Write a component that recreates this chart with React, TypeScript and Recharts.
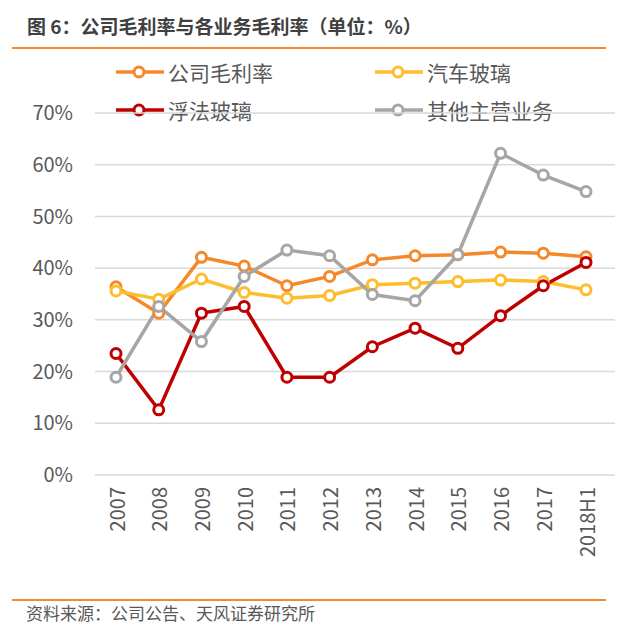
import React from 'react';
import { LineChart, Line, XAxis, YAxis, CartesianGrid } from 'recharts';

// Gross margin by business line, %
const years = ['2007', '2008', '2009', '2010', '2011', '2012', '2013', '2014', '2015', '2016', '2017', '2018H1'];
const companyMargin = [36.4, 31.3, 42.1, 40.4, 36.6, 38.4, 41.6, 42.4, 42.6, 43.1, 42.9, 42.2];
const autoGlassMargin = [35.6, 34.0, 37.9, 35.3, 34.2, 34.7, 36.8, 37.1, 37.4, 37.7, 37.4, 35.8];
const floatGlassMargin = [23.5, 12.6, 31.3, 32.6, 18.9, 18.9, 24.8, 28.4, 24.5, 30.8, 36.6, 41.1];
const otherBizMargin = [18.9, 32.6, 25.8, 38.4, 43.5, 42.4, 34.9, 33.7, 42.6, 62.2, 58.0, 54.8];
const yTicks = [0, 10, 20, 30, 40, 50, 60, 70];

const data = years.map((year, i) => ({
  year,
  company: companyMargin[i],
  auto: autoGlassMargin[i],
  float: floatGlassMargin[i],
  other: otherBizMargin[i],
}));

const series = [
  { key: 'company', name: '公司毛利率', color: '#F5882B' },
  { key: 'auto', name: '汽车玻璃', color: '#FDBD2C' },
  { key: 'float', name: '浮法玻璃', color: '#C00000' },
  { key: 'other', name: '其他主营业务', color: '#A6A6A6' },
];

const FONT = '"Noto Sans CJK SC", "Noto Sans", sans-serif';
const TEXT = '#595959';

const XTick = (props: any) => {
  const { x, y, payload } = props;
  return (
    <text
      transform={`translate(${x},${y}) rotate(-90)`}
      textAnchor="end"
      dominantBaseline="central"
      fontSize={20}
      fontFamily={FONT}
      fill={TEXT}
    >
      {payload.value}
    </text>
  );
};

const LegendBlock = () => {
  const cols = [115, 374];
  const rows = [72, 110];
  return (
    <>
      {series.map((s, i) => {
        const left = cols[i % 2];
        const cy = rows[Math.floor(i / 2)];
        return (
          <div
            key={s.key}
            style={{ position: 'absolute', left, top: cy - 16, height: 32, display: 'flex', alignItems: 'center' }}
          >
            <svg width={50} height={32} style={{ display: 'block' }}>
              <line x1={1} y1={16} x2={49} y2={16} stroke={s.color} strokeWidth={3.5} />
              <circle cx={24} cy={16} r={5} fill="#fff" stroke={s.color} strokeWidth={3} />
            </svg>
            <span style={{ marginLeft: 3, fontSize: 21, color: TEXT, fontFamily: FONT, whiteSpace: 'nowrap' }}>
              {s.name}
            </span>
          </div>
        );
      })}
    </>
  );
};

export default function App() {
  return (
    <div style={{ position: 'absolute', left: 0, top: 0, width: 620, height: 632, background: '#fff', fontFamily: FONT }}>
      <div
        style={{
          position: 'absolute',
          left: 27,
          top: 12,
          fontSize: 19,
          fontWeight: 700,
          color: '#404040',
          whiteSpace: 'nowrap',
          lineHeight: '28px',
        }}
      >
        图 6：公司毛利率与各业务毛利率（单位：%）
      </div>
      <div style={{ position: 'absolute', left: 12, top: 47, width: 594, height: 2, background: '#F28A2E' }} />
      <LegendBlock />
      <div style={{ position: 'absolute', left: 0, top: 0 }}>
        <LineChart width={620} height={632} data={data} margin={{ top: 113, right: 5, bottom: 57, left: 0 }}>
          <CartesianGrid vertical={false} stroke="#D9D9D9" strokeWidth={1.5} />
          <XAxis
            dataKey="year"
            axisLine={false}
            tickLine={false}
            tickSize={0}
            tickMargin={12}
            height={100}
            interval={0}
            padding={{ left: 21, right: 29 }}
            tick={<XTick />}
          />
          <YAxis
            domain={[0, 70]}
            ticks={yTicks}
            width={95}
            axisLine={false}
            tickLine={false}
            tickSize={0}
            tickMargin={22}
            tickFormatter={(v: number) => `${v}%`}
            tick={{ fontSize: 20, fill: TEXT, fontFamily: FONT }}
          />
          {series.map((s) => (
            <Line
              key={s.key}
              dataKey={s.key}
              name={s.name}
              type="linear"
              stroke={s.color}
              strokeWidth={3.5}
              dot={{ r: 5, fill: '#fff', stroke: s.color, strokeWidth: 3 }}
              activeDot={false}
              isAnimationActive={false}
            />
          ))}
        </LineChart>
      </div>
      <div style={{ position: 'absolute', left: 12, top: 599, width: 594, height: 2, background: '#F28A2E' }} />
      <div
        style={{
          position: 'absolute',
          left: 26,
          top: 602,
          fontSize: 17,
          color: TEXT,
          whiteSpace: 'nowrap',
          lineHeight: '22px',
        }}
      >
        资料来源：公司公告、天风证券研究所
      </div>
    </div>
  );
}
